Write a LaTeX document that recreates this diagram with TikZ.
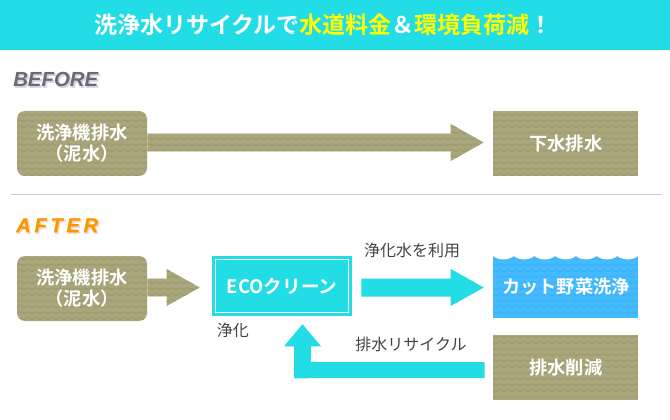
\documentclass[tikz,border=0pt]{standalone}
\usepackage{fontspec}
\setmainfont{Liberation Sans}
\newfontfamily\jp{Noto Sans CJK JP}
\newfontfamily\jpb{Noto Sans CJK JP Bold}
\newfontfamily\lat{Liberation Sans Bold Italic}
\newfontfamily\latb{Liberation Sans Bold Italic}[RawFeature={embolden=2.5}]
\newfontfamily\lats{Liberation Sans Bold Italic}[LetterSpace=19,RawFeature={embolden=0.6}]
\newfontfamily\latsb{Liberation Sans Bold Italic}[LetterSpace=19,RawFeature={embolden=2.5}]
\usetikzlibrary{calc,patterns}
\definecolor{cyanbar}{HTML}{22DCE6}
\definecolor{mud}{HTML}{A8A67A}
\definecolor{muddark}{HTML}{99976A}
\definecolor{mudedge}{HTML}{D9D7C4}
\definecolor{water}{HTML}{44BBFF}
\definecolor{waterdark}{HTML}{3AAEF2}
\definecolor{titleyellow}{HTML}{FFFF00}
\definecolor{labelgray}{HTML}{444444}
\pgfdeclarepatternformonly{zigzagtile}{\pgfqpoint{-1pt}{-1pt}}{\pgfqpoint{7pt}{6pt}}{\pgfqpoint{6pt}{4.5pt}}{%
  \pgfsetlinewidth{0.5pt}%
  \pgfpathmoveto{\pgfqpoint{-0.5pt}{3.53pt}}%
  \pgfpathlineto{\pgfqpoint{0pt}{3.3pt}}%
  \pgfpathlineto{\pgfqpoint{3pt}{4.7pt}}%
  \pgfpathlineto{\pgfqpoint{6pt}{3.3pt}}%
  \pgfpathlineto{\pgfqpoint{6.5pt}{3.53pt}}%
  \pgfusepath{stroke}}
\tikzset{
  x=0.75pt,y=-0.75pt,
  mudfill/.style={fill=mud,postaction={pattern=zigzagtile,pattern color=muddark}},
  boxtext/.style={text=white,align=center,inner sep=0pt,font=\jpb\fontsize{13.7pt}{16pt}\selectfont},
  mudround/.style={mudfill,boxtext,rounded corners=6pt,minimum width=97.5pt,minimum height=48.75pt},
  mudrect/.style={mudfill,boxtext,minimum width=108.75pt,minimum height=48.75pt},
  plainlabel/.style={text=labelgray,inner sep=0pt,font=\jp\fontsize{12pt}{14pt}\selectfont},
  cyanarrow/.style={fill=cyanbar},
  mudarrow/.style={mudfill},
  shaftedge/.style={draw=mudedge,line width=0.6pt},
}
\newcommand{\blockarrow}[3]{%
  \path[#1] (#2) ++(0,-9) -- ($(#3)+(-33,-9)$) -- ($(#3)+(-33,-18.5)$) -- (#3)
    -- ($(#3)+(-33,18.5)$) -- ($(#3)+(-33,9)$) -- ($(#2)+(0,9)$) -- cycle;}
\begin{document}
\begin{tikzpicture}
\useasboundingbox (0,0) rectangle (670,420);
\fill[white] (0,0) rectangle (670,420);
% header
\fill[cyanbar] (0,0) rectangle (670,50);
\node[inner sep=0pt,text=white,font=\jpb\fontsize{17.25pt}{20pt}\selectfont] (title) at (323.5,25)
  {洗浄水リサイクルで\textcolor{titleyellow}{水道料金}＆\textcolor{titleyellow}{環境負荷減}！};
% BEFORE
\node[inner sep=0pt,anchor=west,text=black!58,font=\lat\fontsize{15.3pt}{18pt}\selectfont] (before) at (13,80)
  {\rlap{\kern1pt\raisebox{-1pt}{\latb\textcolor[HTML]{D6D2EE}{BEFORE}}}BEFORE};
\node[mudround] (b1) at (82,143.5) {\raisebox{-0.4pt}{洗浄機排水}\\（泥水）};
\node[mudrect] (b2) at (565.5,143.5) {\kern0.7pt 下水排水};
\coordinate (b1s) at ($(b1.east)+(0,-1)$);
\coordinate (b2e) at ($(b2.west)+(-9,-1)$);
\blockarrow{mudarrow}{b1s}{b2e}
\draw[shaftedge] ($(b1s)+(0,-9)$) -- ($(b2e)+(-33,-9)$);
\draw[shaftedge] ($(b1s)+(0,9)$) -- ($(b2e)+(-33,9)$);
% separator
\draw[black!20,line width=0.75pt] (11,195) -- (662,195);
% AFTER
\node[inner sep=0pt,anchor=west,text=orange!85!yellow,font=\lats\fontsize{15pt}{18pt}\selectfont] (after) at (16,226)
  {\rlap{\kern1pt\raisebox{-1pt}{\latsb\textcolor[HTML]{F0DCCC}{AFTER}}}AFTER};
\node[mudround] (a1) at (82,288.5) {\raisebox{-0.4pt}{洗浄機排水}\\（泥水）};
\node[fill=cyanbar,boxtext,minimum width=105pt,minimum height=45pt,font=\jpb\fontsize{13.9pt}{16pt}\selectfont] (eco) at (282,286) {ECOクリーン};
\draw[white,line width=0.75pt] ($(eco.north west)+(3.5,3.5)$) rectangle ($(eco.south east)+(-3.5,-3.5)$);
\node[plainlabel,anchor=west] (purify) at (216.5,330) {浄化};
% washing box
\fill[water] (493,256) rectangle (638,318);
\path[pattern=zigzagtile,pattern color=waterdark] (493,256) rectangle (638,316.5);
\foreach \k in {0,...,6}
  \fill[white] ({493+20.714*\k},256) .. controls ({493+20.714*\k+5},260.5) and ({493+20.714*\k+15.7},260.5) .. ({493+20.714*(\k+1)},256) -- cycle;
\node[boxtext,minimum width=108.75pt,minimum height=46.5pt] (wash) at (566,287) {カット野菜洗浄};
\node[mudrect] (cut) at (565.5,367.5) {\raisebox{-0.5pt}{\kern0.7pt 排水削減}};
% AFTER arrows
\coordinate (a1s) at ($(a1.east)+(0,-1)$);
\coordinate (ecow) at ($(eco.west)+(-12,1.5)$);
\blockarrow{mudarrow}{a1s}{ecow}
\draw[shaftedge] ($(a1s)+(0,-9)$) -- ($(ecow)+(-33,-9)$);
\draw[shaftedge] ($(a1s)+(0,9)$) -- ($(ecow)+(-33,9)$);
\coordinate (ecoe) at ($(eco.east)+(9,1.5)$);
\coordinate (washw) at ($(wash.west)+(-9.5,0.5)$);
\blockarrow{cyanarrow}{ecoe}{washw}
\node[plainlabel] (use) at (412,250) {浄化水を利用};
% recycle arrow
\coordinate (cutw) at ($(cut.west)+(-8,2.5)$);
\coordinate (ecotip) at ($(eco.south)+(20.5,8)$);
\fill[cyanbar] ($(cutw)+(0,-8)$) -- ($(cutw)+(-174,-8)$) -- ($(ecotip)+(8.5,22)$) -- ($(ecotip)+(18.5,22)$)
  -- (ecotip) -- ($(ecotip)+(-18.5,22)$) -- ($(ecotip)+(-8.5,22)$) -- ($(ecotip)+(-8.5,54)$) -- ($(cutw)+(0,8)$) -- cycle;
\node[plainlabel] (recycle) at (411,344) {排水リサイクル};
\end{tikzpicture}
\end{document}
